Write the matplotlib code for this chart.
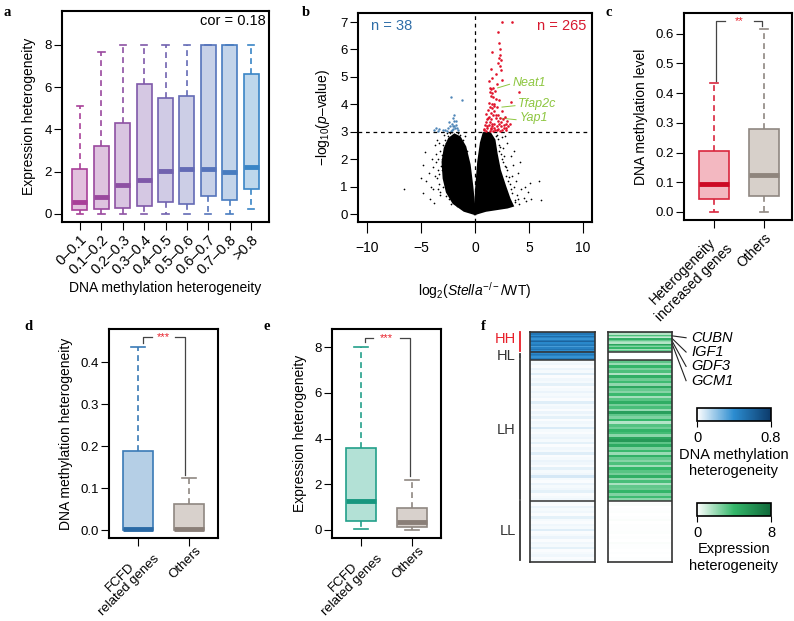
import matplotlib
matplotlib.use("Agg")
import matplotlib.pyplot as plt
import numpy as np
from matplotlib.colors import LinearSegmentedColormap, Normalize, to_rgb
from matplotlib.colorbar import ColorbarBase
from matplotlib.transforms import blended_transform_factory, ScaledTranslation

plt.rcParams["font.family"] = ["Liberation Sans", "DejaVu Sans"]
plt.rcParams["font.size"] = 9.5
plt.rcParams["mathtext.fontset"] = "custom"
plt.rcParams["mathtext.rm"] = "Liberation Sans"
plt.rcParams["mathtext.it"] = "Liberation Sans:italic"

W, H = 794, 621

# ---------------- data ----------------
# panel a: expression heterogeneity by methylation heterogeneity bin
a_labels = ["0–0.1", "0.1–0.2", "0.2–0.3", "0.3–0.4", "0.4–0.5",
            "0.5–0.6", "0.6–0.7", "0.7–0.8", ">0.8"]
a_whislo = [0.0, 0.0, 0.0, 0.0, 0.0, 0.0, 0.0, 0.0, 0.25]
a_q1 = [0.2, 0.22, 0.3, 0.4, 0.55, 0.45, 0.85, 0.65, 1.2]
a_med = [0.58, 0.82, 1.38, 1.6, 2.05, 2.12, 2.12, 1.98, 2.2]
a_q3 = [2.15, 3.22, 4.3, 6.15, 5.5, 5.58, 8.0, 8.0, 6.6]
a_whishi = [5.1, 7.65, 8.0, 8.0, 8.0, 8.0, 8.0, 8.0, 8.0]
a_cor = 0.18

# panel b: volcano plot (dense cores as outlines, sparse points listed)
b_n_down, b_n_up = 38, 265
b_left_x = [0, -1.0, -2.0, -2.6, -2.9, -3.0, -2.8, -2.4, -1.9, -1.4, -0.9, -0.5, -0.25, -0.08]
b_left_y = [0, 0.12, 0.4, 0.8, 1.3, 1.9, 2.4, 2.75, 2.9, 2.8, 2.45, 1.8, 1.0, 0.3]
b_right_x = [0, 0.1, 0.3, 0.55, 0.8, 1.4, 1.8, 2.0, 2.3, 2.8, 3.2, 3.5, 3.0, 2.0, 1.0, 0.4]
b_right_y = [0, 0.9, 1.9, 2.6, 2.95, 2.95, 2.7, 2.2, 1.6, 1.0, 0.55, 0.3, 0.24, 0.18, 0.12, 0.05]
b_black_x = [-6.6, -4.8, -4.6, -4.8, -4.3, -4.5, -4.0, -3.9, -5.0, -4.2, -3.7, -3.5, -4.1, -3.8,
             -2.9, -3.3, -3.6, -3.4, -3.2, -2.6, -3.7, -3.1, -2.3, -1.4, -0.9,
             -3.3, -3.1, -3.4, -3.2, -3.0, -2.8, -3.5, -3.6, -2.5, -2.2, -1.7, -1.1, -0.7,
             -3.9, -3.45, -3.25, -2.95, -2.7, -2.4, -3.05, -1.6, -2.1, -3.35, -3.15, -2.65,
             5.9, 5.1, 6.1, 5.2, 4.7, 3.3, 4.0, 3.8, 4.3, 4.5, 3.5, 3.0, 3.9, 4.9, 3.6,
             4.2, 2.8, 3.2, 4.6, 2.6, 3.4, 2.5, 3.7, 4.1, 2.9,
             2.2, 2.4, 2.6, 2.9, 3.1, 3.3, 2.1, 2.35, 2.7, 3.0, 3.45, 3.7, 2.05, 2.5, 1.9,
             2.25, 2.8, 3.15, 3.6, 4.0]
b_black_y = [0.93, 0.76, 2.28, 1.8, 1.5, 1.2, 2.0, 0.9, 1.3, 0.55, 2.5, 2.7, 1.0, 0.4,
             2.9, 2.6, 2.2, 1.6, 0.7, 2.95, 1.4, 2.0, 2.95, 2.9, 2.85,
             1.1, 1.6, 2.0, 2.3, 2.5, 2.7, 1.3, 1.9, 2.85, 0.35, 0.3, 2.7, 2.3,
             1.7, 0.9, 0.8, 1.0, 0.65, 0.55, 2.15, 2.95, 2.98, 1.45, 1.75, 2.6,
             1.19, 1.13, 0.52, 0.56, 0.46, 2.1, 1.5, 1.2, 0.9, 0.6, 1.8, 2.6, 0.7, 0.8, 2.3,
             1.9, 2.85, 1.1, 1.0, 2.4, 1.4, 2.8, 0.45, 0.35, 1.7,
             2.5, 2.2, 1.9, 1.4, 1.2, 0.9, 2.75, 2.45, 2.1, 1.6, 0.75, 0.5, 2.9, 2.0, 2.85,
             2.3, 1.75, 1.35, 1.0, 0.55]
b_blue_x = [-2.2, -1.2, -1.9, -2.0, -1.95, -2.1, -1.8, -2.3, -2.5, -3.6, -3.3, -3.0, -2.8, -3.8,
            -2.0, -1.7, -1.6, -2.2, -2.6, -1.9, -2.4, -1.85, -3.4, -2.05, -1.75, -2.15]
b_blue_y = [4.28, 4.15, 3.62, 3.5, 3.4, 3.3, 3.25, 3.2, 3.15, 3.12, 3.1, 3.08, 3.05, 3.05,
            3.1, 3.12, 3.05, 3.02, 3.02, 3.2, 3.35, 3.15, 3.02, 3.22, 3.38, 3.05]
b_red_x = [2.5, 3.4, 2.1, 2.2, 2.3, 1.6, 2.35, 2.2, 2.4, 2.15, 2.3, 1.5, 2.45, 1.9, 1.6, 2.5,
           1.3, 2.0, 1.7, 1.5, 1.85, 4.05, 1.35, 1.6, 1.45, 1.7, 1.9, 2.2, 3.3, 1.3, 1.55,
           1.75, 1.4, 2.0, 1.6, 1.2, 1.8, 2.5, 1.45, 1.05, 1.65, 2.1, 1.3, 2.3, 1.9, 2.8,
           1.1, 1.5, 2.6, 3.0, 1.0, 1.4, 1.8, 2.2, 2.9, 0.9, 1.25, 1.6, 2.0, 2.4, 2.7, 3.1,
           0.85, 1.15, 1.5, 1.85, 2.15, 2.5, 2.85, 1.0, 1.35, 1.7, 2.3, 0.8, 1.2, 1.4, 1.8,
           2.1, 1.55, 1.95, 2.45, 1.75, 2.05, 1.1, 2.65, 1.45, 3.2, 2.9]
b_red_y = [7.0, 7.0, 6.65, 6.25, 6.0, 5.9, 5.8, 5.7, 5.6, 5.5, 5.4, 5.3, 5.25, 5.1, 4.95, 4.9,
           4.85, 4.75, 4.6, 4.55, 4.5, 4.45, 4.45, 4.4, 4.3, 4.25, 4.2, 4.15, 4.1, 4.05, 4.0,
           3.95, 3.9, 3.9, 3.85, 3.8, 3.75, 3.75, 3.7, 3.65, 3.6, 3.6, 3.55, 3.5, 3.5, 3.55,
           3.45, 3.45, 3.45, 3.4, 3.35, 3.35, 3.3, 3.3, 3.3, 3.25, 3.25, 3.2, 3.2, 3.2, 3.15, 3.2,
           3.1, 3.12, 3.1, 3.08, 3.1, 3.05, 3.05, 3.02, 3.03, 3.02, 3.02, 3.05, 3.5, 4.6, 4.0,
           3.4, 3.3, 3.6, 3.35, 3.15, 3.05, 3.2, 3.25, 3.15, 3.3, 3.15]
b_genes = ["Neat1", "Tfap2c", "Yap1"]
b_gene_pt_x = [2.1, 2.5, 2.3]
b_gene_pt_y = [4.6, 3.9, 3.5]
b_gene_lab_x = [3.5, 4.0, 4.1]
b_gene_lab_y = [4.78, 4.0, 3.49]

# panel c: DNA methylation level
c_labels = ["Heterogeneity\nincreased genes", "Others"]
c_whislo = [0.0, 0.0]
c_q1 = [0.045, 0.053]
c_med = [0.095, 0.125]
c_q3 = [0.205, 0.28]
c_whishi = [0.435, 0.615]

# panel d: DNA methylation heterogeneity
de_labels = ["FCFD\nrelated genes", "Others"]
d_whislo = [0.0, 0.0]
d_q1 = [0.0, 0.0]
d_med = [0.003, 0.003]
d_q3 = [0.188, 0.063]
d_whishi = [0.437, 0.125]

# panel e: expression heterogeneity
e_whislo = [0.05, 0.02]
e_q1 = [0.4, 0.15]
e_med = [1.25, 0.37]
e_q3 = [3.57, 0.97]
e_whishi = [8.0, 2.18]

# panel f: heatmap groups (gene counts) and per-row values
f_groups = ["HH", "HL", "LH", "LL"]
f_counts = [16, 6, 110, 48]
f_meth = {
    "HH": [0.45, 0.5, 0.4, 0.55, 0.45, 0.38, 0.5, 0.6, 0.42, 0.48, 0.5, 0.35, 0.45, 0.52, 0.4, 0.5],
    "HL": [0.42, 0.5, 0.45, 0.38, 0.48, 0.44],
    "LH": [0.02, 0.03, 0.01, 0.04, 0.02, 0.06, 0.01, 0.03, 0.02, 0.05, 0.01, 0.02, 0.04, 0.02,
           0.03, 0.01, 0.06, 0.02, 0.03, 0.01, 0.04, 0.02, 0.05, 0.01, 0.03, 0.02, 0.07, 0.02,
           0.01, 0.03, 0.04, 0.02, 0.05, 0.01, 0.03, 0.02, 0.06, 0.01, 0.02, 0.04, 0.03, 0.01,
           0.05, 0.02, 0.03, 0.08, 0.02, 0.01, 0.04, 0.02, 0.03, 0.05, 0.01, 0.02, 0.03],
    "LL": [0.02, 0.01, 0.04, 0.02, 0.03, 0.01, 0.05, 0.02, 0.01, 0.03, 0.02, 0.06, 0.01, 0.02,
           0.04, 0.01, 0.03, 0.02, 0.05, 0.01, 0.02, 0.03, 0.01, 0.02],
}
f_expr = {
    "HH": [2.5, 1.5, 3.5, 2.0, 1.2, 4.5, 3.0, 2.0, 1.5, 5.0, 3.5, 2.5, 4.0, 1.8, 3.0, 2.2],
    "HL": [0.0, 0.0, 0.0, 0.0, 0.0, 0.0],
    "LH": [3.2, 2.0, 4.1, 2.6, 3.5, 1.6, 4.4, 2.9, 3.8, 2.2, 4.8, 3.0, 2.4, 3.9, 1.8, 3.3, 4.5,
           2.7, 3.6, 2.1, 5.2, 3.1, 2.5, 4.0, 1.5, 3.4, 2.8, 4.2, 3.7, 2.3, 4.9, 5.5, 3.2, 4.6,
           2.6, 3.9, 2.0, 4.3, 3.0, 2.4, 3.5, 1.9, 4.0, 3.3, 2.7, 4.4, 2.2, 3.6, 1.7, 3.1, 2.9,
           4.1, 2.5, 3.8, 2.3],
    "LL": [0.05, 0.1, 0.02, 0.05, 0.08, 0.03, 0.05, 0.1, 0.02, 0.06, 0.04, 0.05, 0.08, 0.02,
           0.05, 0.03, 0.1, 0.04, 0.05, 0.02, 0.06, 0.03, 0.05, 0.04],
}
f_genes = ["CUBN", "IGF1", "GDF3", "GCM1"]
f_gene_rows = [3, 5, 7, 9]

# ---------------- helpers ----------------
def px_axes(fig, x0, y0, x1, y1):
    return fig.add_axes([x0 / W, 1 - y1 / H, (x1 - x0) / W, (y1 - y0) / H])


def mix(c, f):
    r = np.array(to_rgb(c))
    return tuple(r * f + (1 - f))


def boxes(ax, lo, q1, med, q3, hi, edges, fills, meds, width, capw):
    for i in range(len(med)):
        st = dict(whislo=lo[i], q1=q1[i], med=med[i], q3=q3[i], whishi=hi[i], fliers=[])
        ax.bxp([st], positions=[i + 1], widths=width, capwidths=capw, patch_artist=True,
               showfliers=False,
               boxprops=dict(facecolor=fills[i], edgecolor=edges[i], linewidth=1.2),
               whiskerprops=dict(color=edges[i], linestyle=(0, (3.5, 2.5)), linewidth=1.2),
               capprops=dict(color=edges[i], linewidth=1.2),
               medianprops=dict(color=meds[i], linewidth=3.5, solid_capstyle="butt"))


def style(ax):
    for s in ax.spines.values():
        s.set_linewidth(1.5)
    ax.tick_params(direction="out", length=5.5, width=0.8, pad=2)


def letter(fig, x, y, t):
    fig.text(x / W, 1 - y / H, t, fontsize=10.5, fontweight="bold",
             family="Liberation Serif", va="center", ha="left")


def bracket(ax, x_left, y_left0, x_right, y_right0, y_top, gap, stars):
    ax.plot([x_left, x_left, 1.5 - gap], [y_left0, y_top, y_top], color="#444444", lw=0.9)
    ax.plot([1.5 + gap, x_right, x_right], [y_top, y_top, y_right0], color="#444444", lw=0.9)
    ax.text(1.5, y_top, stars, color="#e8202a", ha="center", va="center", fontsize=8)


def two_line_ticks(fig, ax, labels):
    ax.set_xticklabels(labels, rotation=45, ha="right", rotation_mode="anchor",
                       multialignment="center", fontsize=9.5, linespacing=1.05)
    shift = ScaledTranslation(6 / 100, 4 / 100, fig.dpi_scale_trans)
    for t in ax.get_xticklabels():
        t.set_transform(t.get_transform() + shift)


fig = plt.figure(figsize=(W / 100, H / 100), dpi=100)

# ---------------- panel a ----------------
ax = px_axes(fig, 62, 11, 269, 222)
edge_a = [tuple(np.array(to_rgb("#a83f98")) * (1 - t) + np.array(to_rgb("#3a85c6")) * t)
          for t in np.linspace(0, 1, len(a_med))]
fill_a = [mix(c, 0.33) for c in edge_a]
boxes(ax, a_whislo, a_q1, a_med, a_q3, a_whishi, edge_a, fill_a, edge_a, 0.7, 0.3)
ax.set_xlim(0.16, 9.84)
ax.set_ylim(-0.38, 9.6)
ax.set_yticks([0, 2, 4, 6, 8])
ax.set_xticks(range(1, 10))
ax.set_xticklabels(a_labels, rotation=45, ha="right", rotation_mode="anchor", fontsize=10.5)
ax.set_ylabel("Expression heterogeneity", labelpad=6, fontsize=10)
ax.set_xlabel("DNA methylation heterogeneity", labelpad=3, fontsize=10)
ax.text(9.7, 9.15, f"cor = {a_cor}", ha="right", va="center", fontsize=10.5)
style(ax)

# ---------------- panel b ----------------
ax = px_axes(fig, 358, 13, 592, 222)
ax.fill(b_left_x, b_left_y, color="black", lw=1.5)
ax.fill(b_right_x, b_right_y, color="black", lw=1.5)
ax.scatter(b_black_x, b_black_y, s=1.5, color="black", lw=0)
ax.scatter(b_blue_x, b_blue_y, s=3, color="#4f86b8", lw=0)
ax.scatter(b_red_x, b_red_y, s=3.5, color="#e0132b", lw=0, zorder=3)
ax.axvline(0, color="black", lw=0.9, ls=(0, (3, 3)))
ax.axhline(3, color="black", lw=0.9, ls=(0, (3, 3)))
for g, px, py, lx, ly in zip(b_genes, b_gene_pt_x, b_gene_pt_y, b_gene_lab_x, b_gene_lab_y):
    ax.plot([px, lx - 0.3], [py, ly - 0.05], color="#8dc63f", lw=0.7)
    ax.text(lx, ly, g, color="#8dc63f", style="italic", va="center", ha="left", fontsize=9)
ax.text(-9.6, 6.85, f"n = {b_n_down}", color="#2f6ea8", va="center", ha="left", fontsize=10.5)
ax.text(10.3, 6.85, f"n = {b_n_up}", color="#d7192f", va="center", ha="right", fontsize=10.5)
ax.set_xlim(-10.83, 10.83)
ax.set_ylim(-0.29, 7.33)
ax.set_xticks([-10, -5, 0, 5, 10])
ax.set_xticklabels(["−10", "−5", "0", "5", "10"], fontsize=10)
ax.set_yticks(range(8))
ax.set_ylabel(r"−log$_{10}$($\mathit{p}$–value)", labelpad=6, fontsize=10)
ax.set_xlabel(r"log$_{2}$($\mathit{Stella}^{-/-}$/WT)", labelpad=18, fontsize=10)
style(ax)
ax.tick_params(axis="x", length=8, pad=6)

# ---------------- panel c ----------------
ax = px_axes(fig, 684, 13, 792, 220)
boxes(ax, c_whislo, c_q1, c_med, c_q3, c_whishi,
      ["#d9263e", "#8f8781"], ["#f3b8c1", "#d7d0ca"], ["#cc0a25", "#8f857d"], 0.6, 0.16)
bracket(ax, 1.04, 0.44, 1.95, 0.625, 0.644, 0.29, "**")
ax.set_xlim(0.4, 2.56)
ax.set_ylim(-0.027, 0.67)
ax.set_yticks([0.0, 0.1, 0.2, 0.3, 0.4, 0.5, 0.6])
ax.set_yticklabels(["0.0", "0.1", "0.2", "0.3", "0.4", "0.5", "0.6"])
ax.set_xticks([1, 2])
ax.set_xticklabels(c_labels, rotation=45, ha="right", rotation_mode="anchor",
                   multialignment="center", fontsize=10)
ax.set_ylabel("DNA methylation level", labelpad=5, fontsize=10)
style(ax)

# ---------------- panel d ----------------
ax = px_axes(fig, 109, 329, 218, 538)
boxes(ax, d_whislo, d_q1, d_med, d_q3, d_whishi,
      ["#3a7ab6", "#8f8781"], ["#b5cfe6", "#d8d1cc"], ["#2a6aa6", "#8a7f78"], 0.6, 0.26)
bracket(ax, 1.09, 0.445, 1.92, 0.13, 0.46, 0.23, "***")
ax.set_xlim(0.43, 2.57)
ax.set_ylim(-0.019, 0.479)
ax.set_yticks([0.0, 0.1, 0.2, 0.3, 0.4])
ax.set_yticklabels(["0.0", "0.1", "0.2", "0.3", "0.4"])
ax.set_xticks([1, 2])
ax.set_ylabel("DNA methylation heterogeneity", labelpad=5, fontsize=10)
style(ax)
two_line_ticks(fig, ax, de_labels)

# ---------------- panel e ----------------
ax = px_axes(fig, 332, 329, 441, 538)
boxes(ax, e_whislo, e_q1, e_med, e_q3, e_whishi,
      ["#22a08a", "#8f8781"], ["#b3e1d6", "#d8d1cc"], ["#17977f", "#8a7f78"], 0.6, 0.26)
bracket(ax, 1.07, 8.2, 1.96, 2.35, 8.41, 0.26, "***")
ax.set_xlim(0.43, 2.57)
ax.set_ylim(-0.35, 8.79)
ax.set_yticks([0, 2, 4, 6, 8])
ax.set_xticks([1, 2])
ax.set_ylabel("Expression heterogeneity", labelpad=5, fontsize=10)
style(ax)
two_line_ticks(fig, ax, de_labels)

# ---------------- panel f ----------------
cm_blue = LinearSegmentedColormap.from_list("meth", ["#ffffff", "#2b8cd0", "#0c3a6a"])
cm_green = LinearSegmentedColormap.from_list("expr", ["#ffffff", "#34b76a", "#10693a"])
total = sum(f_counts)
bounds = np.concatenate([[0], np.cumsum(f_counts)])

ax_m = px_axes(fig, 530, 332, 595, 562)
ax_e = px_axes(fig, 608, 332, 672, 562)
for axh, vals, cm, vmax in [(ax_m, f_meth, cm_blue, 0.8), (ax_e, f_expr, cm_green, 8)]:
    for gi, g in enumerate(f_groups):
        v = np.array(vals[g])[:, None]
        yedges = np.linspace(bounds[gi], bounds[gi + 1], len(v) + 1)
        axh.pcolormesh([0, 1], yedges, v, cmap=cm, vmin=0, vmax=vmax)
    for b in bounds[1:-1]:
        axh.axhline(b, color="#333333", lw=1.1)
    axh.set_xlim(0, 1)
    axh.set_ylim(total, 0)
    axh.set_xticks([])
    axh.set_yticks([])
    for s in axh.spines.values():
        s.set_linewidth(1.2)
        s.set_color("#333333")

tr = blended_transform_factory(ax_m.transAxes, ax_m.transData)
bar_col = ["#e8202a", "#333333", "#333333", "#333333"]
lab_y_off = [-2.5, 0.0, 0.0, 0.0]
for gi, g in enumerate(f_groups):
    y0, y1 = bounds[gi] + 0.3, bounds[gi + 1] - 1.2
    if g == "HL":
        y0, y1 = bounds[gi] + 1.5, bounds[gi + 1] - 1.5
    ax_m.plot([-0.15, -0.15], [y0, y1], color=bar_col[gi], lw=1.3, transform=tr, clip_on=False)
    ax_m.text(-0.22, (bounds[gi] + bounds[gi + 1]) / 2 + lab_y_off[gi], g, color=bar_col[gi],
              ha="right", va="center", transform=tr, fontsize=10.5)

tr_e = blended_transform_factory(ax_e.transAxes, ax_e.transData)
for i, (g, r) in enumerate(zip(f_genes, f_gene_rows)):
    ly = 4.5 + i * 11.2
    ax_e.plot([1.0, 1.22], [r, ly], color="#222222", lw=0.8, transform=tr_e, clip_on=False)
    ax_e.text(1.3, ly, g, style="italic", ha="left", va="center", transform=tr_e, fontsize=10.5)

for (y0, y1, cm, vmax, ticks, tlabs, title) in [
        (408, 421, cm_blue, 0.8, [0, 0.8], ["0", "0.8"], "DNA methylation\nheterogeneity"),
        (503, 516, cm_green, 8, [0, 8], ["0", "8"], "Expression\nheterogeneity")]:
    cax = px_axes(fig, 697, y0, 771, y1)
    cb = ColorbarBase(cax, cmap=cm, norm=Normalize(0, vmax), orientation="horizontal")
    cb.set_ticks(ticks)
    cb.set_ticklabels(tlabs)
    cb.outline.set_linewidth(1.2)
    cax.tick_params(length=4, width=0.8, pad=3, labelsize=10.5)
    cax.set_xlabel(title, fontsize=10.5, labelpad=2, linespacing=1.2)

letter(fig, 4, 13, "a")
letter(fig, 302, 13, "b")
letter(fig, 606, 13, "c")
letter(fig, 24, 326, "d")
letter(fig, 263, 326, "e")
letter(fig, 481, 326, "f")

fig.savefig("out.png", dpi=100)
